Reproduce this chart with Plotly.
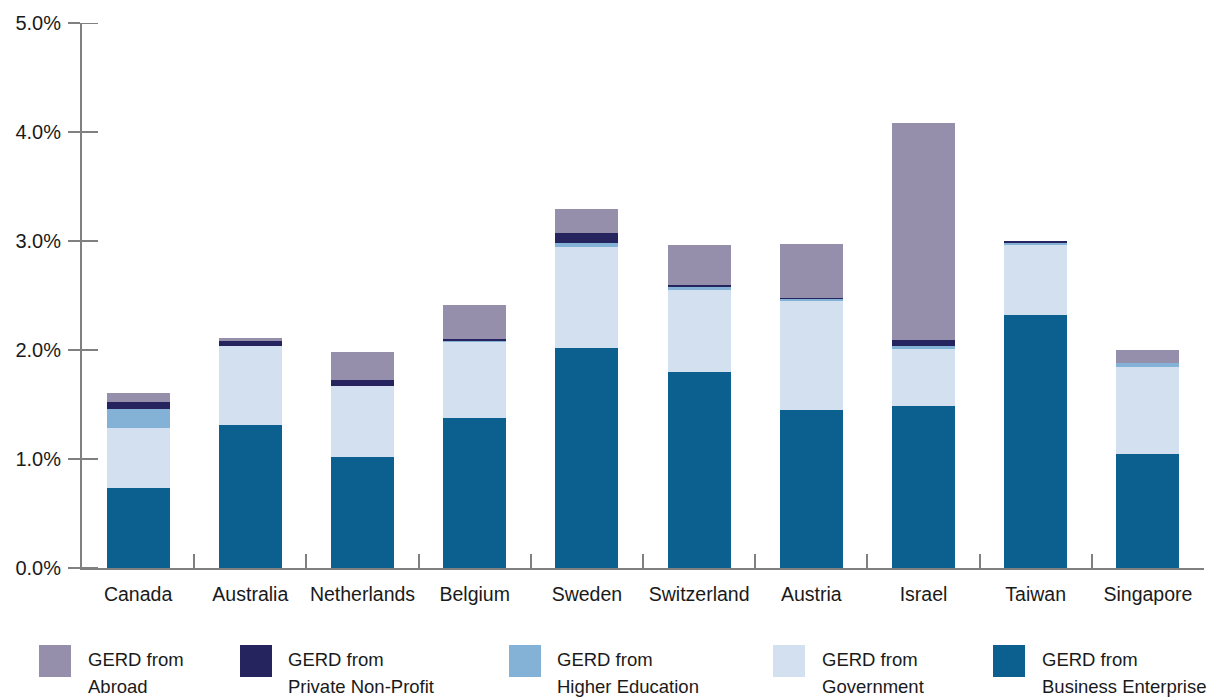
import plotly.graph_objects as go

countries = ["Canada", "Australia", "Netherlands", "Belgium", "Sweden",
             "Switzerland", "Austria", "Israel", "Taiwan", "Singapore"]
business = [0.73, 1.31, 1.02, 1.38, 2.02, 1.80, 1.45, 1.49, 2.32, 1.05]
government = [0.55, 0.73, 0.65, 0.69, 0.925, 0.75, 1.00, 0.52, 0.64, 0.795]
higher_ed = [0.175, 0.0, 0.0, 0.02, 0.035, 0.03, 0.02, 0.03, 0.03, 0.035]
private_np = [0.065, 0.046, 0.055, 0.01, 0.095, 0.02, 0.01, 0.055, 0.01, 0.0]
abroad = [0.09, 0.027, 0.257, 0.31, 0.22, 0.365, 0.495, 1.99, 0.0, 0.12]
y_ticks = [0, 1, 2, 3, 4, 5]

series = [
    ("GERD from Business Enterprise", business, "#0b6090"),
    ("GERD from Government", government, "#d3e0ef"),
    ("GERD from Higher Education", higher_ed, "#84b1d6"),
    ("GERD from Private Non-Profit", private_np, "#25245e"),
    ("GERD from Abroad", abroad, "#968fac"),
]
legend_items = [
    ("GERD from", "Abroad", "#968fac"),
    ("GERD from", "Private Non-Profit", "#25245e"),
    ("GERD from", "Higher Education", "#84b1d6"),
    ("GERD from", "Government", "#d3e0ef"),
    ("GERD from", "Business Enterprise", "#0b6090"),
]

# page body has an 8px margin: work in reference pixels shifted by OFF
OFF = 8
W, H = 1218 - OFF, 700 - OFF
L, T = 82 - OFF, 23 - OFF
PR, PB = 1204 - OFF, 568 - OFF       # plot right / bottom
R, B = W - PR, H - PB
PW, PH = PR - L, PB - T
AX = "#808080"
FONT = "Liberation Sans, Arial, sans-serif"
TXT = "#1a1a1a"


def px(x):
    return (x - OFF - L) / PW


def py(y):
    return (PB - (y - OFF)) / PH


fig = go.Figure()
for name, vals, col in series:
    fig.add_trace(go.Bar(x=countries, y=vals, name=name,
                         marker=dict(color=col, line=dict(width=0)),
                         showlegend=False))

shapes = []
# inside part of y ticks (ticks cross the axis)
for t in y_ticks:
    shapes.append(dict(type="line", xref="paper", yref="y",
                       x0=0, x1=px(82 + 16), y0=t, y1=t,
                       line=dict(color=AX, width=2)))

annotations = []
legend_x_sq = [39, 240, 509, 773, 993]
legend_x_tx = [88, 288, 557, 822, 1042]
for (l1, l2, col), xs, xt in zip(legend_items, legend_x_sq, legend_x_tx):
    shapes.append(dict(type="rect", xref="paper", yref="paper",
                       x0=px(xs), x1=px(xs + 32), y0=py(645), y1=py(677),
                       fillcolor=col, line=dict(width=0)))
    annotations.append(dict(x=px(xt), y=py(659), xref="paper", yref="paper",
                            text=l1, showarrow=False, xanchor="left",
                            yanchor="middle", xshift=-2,
                            font=dict(size=18.5, color=TXT, family=FONT)))
    annotations.append(dict(x=px(xt), y=py(686), xref="paper", yref="paper",
                            text=l2, showarrow=False, xanchor="left",
                            yanchor="middle", xshift=-2,
                            font=dict(size=18.5, color=TXT, family=FONT)))

fig.update_layout(
    width=W, height=H,
    margin=dict(l=L, r=R, t=T, b=B, autoexpand=False),
    barmode="stack",
    bargap=0.4375,
    plot_bgcolor="white",
    paper_bgcolor="white",
    font=dict(family=FONT, size=19, color=TXT),
    shapes=shapes,
    annotations=annotations,
    xaxis=dict(
        automargin=False,
        showgrid=False, zeroline=False,
        showline=True, linecolor=AX, linewidth=2,
        ticks="inside", ticklen=14, tickwidth=2, tickcolor=AX,
        tickson="boundaries", tickangle=0,
        tickfont=dict(size=19.5, color=TXT, family=FONT),
        ticklabelstandoff=8,
    ),
    yaxis=dict(
        automargin=False,
        range=[0, 5], tickvals=y_ticks,
        ticktext=[f"{v:.1f}%" for v in y_ticks],
        showgrid=False, zeroline=False,
        showline=True, linecolor=AX, linewidth=2,
        ticks="outside", ticklen=12, tickwidth=2, tickcolor=AX,
        tickfont=dict(size=20, color=TXT, family=FONT),
        ticklabelstandoff=3,
    ),
)

fig.write_html("out.html")
